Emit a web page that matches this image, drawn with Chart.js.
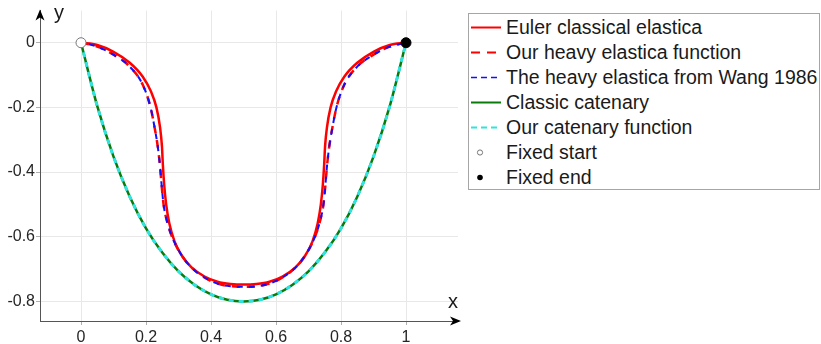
<!DOCTYPE html>
<html>
<head>
<meta charset="utf-8">
<script src="https://cdn.jsdelivr.net/npm/chart.js@4"></script>
<style>
    html, body { margin: 0; padding: 0; background: #fff; }
    .wrap { position: relative; width: 821px; height: 344px; overflow: hidden; }
    #legend {
        position: absolute; left: 468px; top: 13px; width: 352px; height: 177px;
        border: 1px solid #a6a6a6; background: #fff; box-sizing: border-box;
        padding-top: 1px;
        font-family: "Liberation Sans", Arial, sans-serif; font-size: 19.5px; color: #1a1a1a;
    }
    .row { height: 25px; display: flex; align-items: center; white-space: nowrap; }
    .row svg { flex: none; margin-right: 3px; }
</style>
</head>
<body>
<div class="wrap">
    <canvas id="chart" width="821" height="344"></canvas>
    <div id="legend"></div>
</div>
<script>
// Euler classical elastica
const elasticaX = [0, 0.05, 0.1, 0.15, 0.19, 0.215, 0.232, 0.243, 0.249, 0.252, 0.256, 0.262, 0.272, 0.288, 0.31, 0.34, 0.38, 0.42, 0.46, 0.5,
    0.54, 0.58, 0.62, 0.66, 0.69, 0.712, 0.728, 0.738, 0.744, 0.748, 0.751, 0.757, 0.768, 0.785, 0.81, 0.85, 0.9, 0.95, 1];
const elasticaY = [0, -0.007, -0.028, -0.062, -0.105, -0.15, -0.2, -0.26, -0.32, -0.38, -0.44, -0.5, -0.56, -0.615, -0.658, -0.695, -0.723, -0.739, -0.746, -0.748,
    -0.746, -0.739, -0.723, -0.695, -0.658, -0.615, -0.56, -0.5, -0.44, -0.38, -0.32, -0.26, -0.2, -0.15, -0.105, -0.062, -0.028, -0.007, 0];

// heavy elastica (ours and Wang 1986 lie on top of each other)
const heavyX = [0, 0.05, 0.1, 0.15, 0.19, 0.214, 0.226, 0.236, 0.243, 0.248, 0.254, 0.264, 0.28, 0.305, 0.335, 0.375, 0.42, 0.46, 0.5,
    0.54, 0.58, 0.625, 0.665, 0.695, 0.72, 0.736, 0.746, 0.752, 0.757, 0.764, 0.774, 0.786, 0.81, 0.85, 0.9, 0.95, 1];
const heavyY = [0, -0.012, -0.037, -0.074, -0.13, -0.2, -0.26, -0.32, -0.38, -0.44, -0.5, -0.55, -0.6, -0.65, -0.69, -0.723, -0.745, -0.753, -0.755,
    -0.753, -0.745, -0.723, -0.69, -0.65, -0.6, -0.55, -0.5, -0.44, -0.38, -0.32, -0.26, -0.2, -0.13, -0.074, -0.037, -0.012, 0];

// catenary
const catenaryX = [0, 0.05, 0.1, 0.15, 0.2, 0.25, 0.3, 0.35, 0.4, 0.45, 0.5, 0.55, 0.6, 0.65, 0.7, 0.75, 0.8, 0.85, 0.9, 0.95, 1];
const catenaryY = [0, -0.196, -0.352, -0.476, -0.574, -0.649, -0.707, -0.749, -0.778, -0.795, -0.8,
    -0.795, -0.778, -0.749, -0.707, -0.649, -0.574, -0.476, -0.352, -0.196, 0];

const startPoint = [0, 0];
const endPoint = [1, 0];

const xTicks = [0, 0.2, 0.4, 0.6, 0.8, 1];
const yTicks = [0, -0.2, -0.4, -0.6, -0.8];

const seriesLabels = [
    'Euler classical elastica',
    'Our heavy elastica function',
    'The heavy elastica from Wang 1986',
    'Classic catenary',
    'Our catenary function',
    'Fixed start',
    'Fixed end'
];

const FONT = '"Liberation Sans", Arial, sans-serif';

function pts(xs, ys) {
    return xs.map((x, i) => ({ x: x, y: ys[i] }));
}

const lineBase = { showLine: true, pointRadius: 0, cubicInterpolationMode: 'monotone', fill: false };

const arrowsPlugin = {
    id: 'arrows',
    afterDraw(chart) {
        const ctx = chart.ctx;
        const { left, right, top, bottom } = chart.chartArea;
        ctx.save();
        ctx.fillStyle = '#000';
        // x arrow
        ctx.beginPath();
        ctx.moveTo(right + 3, bottom);
        ctx.lineTo(right - 8, bottom - 4.5);
        ctx.lineTo(right - 5, bottom);
        ctx.lineTo(right - 8, bottom + 4.5);
        ctx.closePath();
        ctx.fill();
        // y arrow
        ctx.beginPath();
        ctx.moveTo(left, top - 1);
        ctx.lineTo(left - 4.5, top + 10);
        ctx.lineTo(left, top + 7);
        ctx.lineTo(left + 4.5, top + 10);
        ctx.closePath();
        ctx.fill();
        // axis names
        ctx.fillStyle = '#1a1a1a';
        ctx.font = '20px ' + FONT;
        ctx.textBaseline = 'alphabetic';
        ctx.textAlign = 'left';
        ctx.fillText('y', 54, 19);
        ctx.textAlign = 'center';
        ctx.fillText('x', 453, 308);
        ctx.restore();
    }
};

const tickFmt = v => String(Math.round(v * 10) / 10);

new Chart(document.getElementById('chart').getContext('2d'), {
    type: 'scatter',
    data: {
        datasets: [
            { ...lineBase, label: seriesLabels[0], data: pts(elasticaX, elasticaY), borderColor: '#ff0000', borderWidth: 2.5, order: 6 },
            { ...lineBase, label: seriesLabels[1], data: pts(heavyX, heavyY), borderColor: '#ff0000', borderWidth: 2.5, borderDash: [8, 7], order: 5 },
            { ...lineBase, label: seriesLabels[2], data: pts(heavyX, heavyY), borderColor: '#1010ff', borderWidth: 2, borderDash: [6, 6], borderDashOffset: 4, order: 4 },
            { ...lineBase, label: seriesLabels[3], data: pts(catenaryX, catenaryY), borderColor: '#0a7a0a', borderWidth: 2.5, order: 3 },
            { ...lineBase, label: seriesLabels[4], data: pts(catenaryX, catenaryY), borderColor: '#2fe3e0', borderWidth: 3, borderDash: [5, 5], order: 2 },
            { label: seriesLabels[5], data: [{ x: startPoint[0], y: startPoint[1] }], pointRadius: 5, pointBackgroundColor: '#fff', pointBorderColor: '#777', pointBorderWidth: 1, order: 1 },
            { label: seriesLabels[6], data: [{ x: endPoint[0], y: endPoint[1] }], pointRadius: 5, pointBackgroundColor: '#000', pointBorderColor: '#000', pointBorderWidth: 1, order: 0 }
        ]
    },
    options: {
        responsive: false,
        animation: false,
        layout: { padding: { left: 0, right: 363, top: 9, bottom: 0 } },
        plugins: { legend: { display: false }, tooltip: { enabled: false } },
        scales: {
            x: {
                type: 'linear',
                min: -0.1262,
                max: 1.16,
                afterBuildTicks: s => { s.ticks = xTicks.map(v => ({ value: v })); },
                afterFit: s => { s.height = 23; },
                grid: { color: '#e8e8e8', tickColor: '#b0b0b0', tickLength: 4 },
                border: { color: '#555', width: 1 },
                ticks: { padding: 3, color: '#262626', font: { family: FONT, size: 16 }, maxRotation: 0, callback: tickFmt }
            },
            y: {
                type: 'linear',
                min: -0.8606,
                max: 0.0994,
                afterBuildTicks: s => { s.ticks = yTicks.map(v => ({ value: v })); },
                afterFit: s => { s.width = 40; },
                grid: { color: '#e8e8e8', tickColor: '#b0b0b0', tickLength: 4 },
                border: { color: '#555', width: 1 },
                ticks: { padding: 1, color: '#262626', font: { family: FONT, size: 16 }, callback: tickFmt }
            }
        }
    },
    plugins: [arrowsPlugin]
});

// legend as html
const legendSamples = [
    '<line x1="2" y1="12.5" x2="32" y2="12.5" stroke="#ff0000" stroke-width="2"/>',
    '<line x1="2" y1="12.5" x2="32" y2="12.5" stroke="#ff0000" stroke-width="2" stroke-dasharray="9,7"/>',
    '<line x1="2" y1="12.5" x2="32" y2="12.5" stroke="#1010ff" stroke-width="1.5" stroke-dasharray="6,4"/>',
    '<line x1="2" y1="12.5" x2="32" y2="12.5" stroke="#0a7a0a" stroke-width="2"/>',
    '<line x1="2" y1="12.5" x2="32" y2="12.5" stroke="#2fe3e0" stroke-width="2" stroke-dasharray="6,4"/>',
    '<circle cx="11" cy="12.5" r="2.6" fill="#fff" stroke="#777" stroke-width="1"/>',
    '<circle cx="11" cy="12.5" r="2.8" fill="#000"/>'
];
document.getElementById('legend').innerHTML = seriesLabels.map((t, i) =>
    `<div class="row"><svg width="34" height="25">${legendSamples[i]}</svg><span>${t}</span></div>`
).join('');
</script>
</body>
</html>
